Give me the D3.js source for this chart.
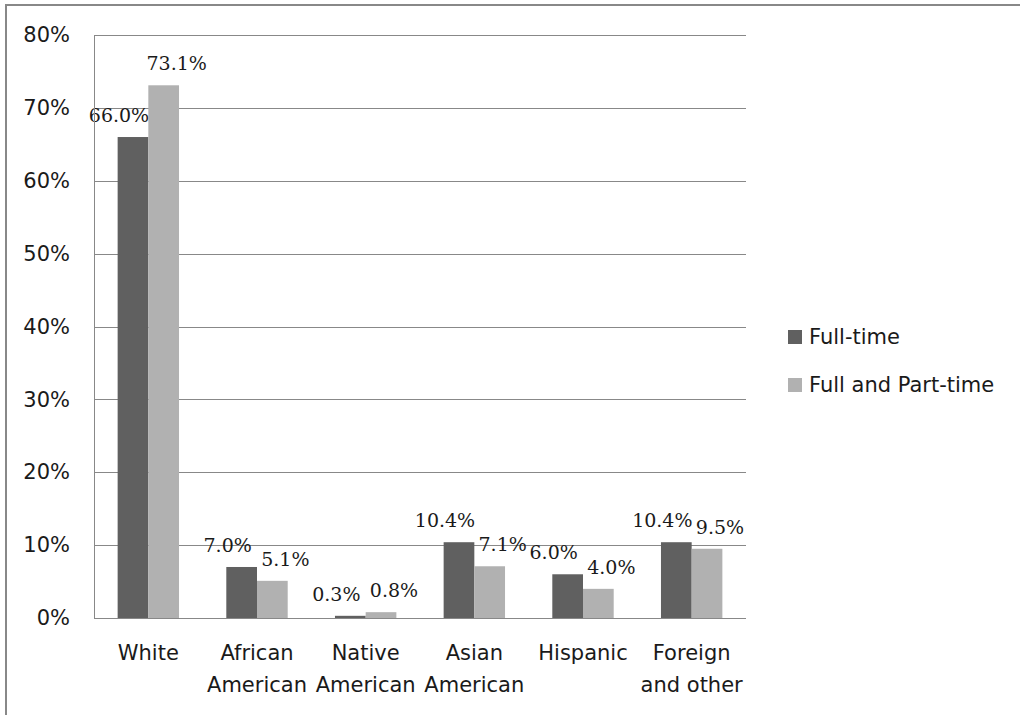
<!DOCTYPE html>
<html>
<head>
<meta charset="utf-8">
<script src="https://cdn.jsdelivr.net/npm/d3@7"></script>
<style>
  html, body { margin: 0; padding: 0; background: #fff; }
  svg { display: block; }
</style>
</head>
<body>
<svg id="chart" width="1020" height="715"></svg>
<script>
// Share of students by race/ethnicity, full-time vs. full and part-time enrolment
const categories = [["White"], ["African", "American"], ["Native", "American"], ["Asian", "American"], ["Hispanic"], ["Foreign", "and other"]];
const seriesNames = ["Full-time", "Full and Part-time"];
const fullTime = [0.660, 0.070, 0.003, 0.104, 0.060, 0.104];
const fullAndPartTime = [0.731, 0.051, 0.008, 0.071, 0.040, 0.095];
const yTicks = [0, 0.1, 0.2, 0.3, 0.4, 0.5, 0.6, 0.7, 0.8];

const seriesValues = [fullTime, fullAndPartTime];
const colors = ["#606060", "#b1b1b1"];
const sansFont = "'DejaVu Sans', sans-serif";
const textColor = "#1a1a1a";

const svg = d3.select("#chart");
const W = 1020, H = 715;
const plot = { left: 94, right: 746, top: 35, bottom: 618 };

// Outer chart frame (right and bottom edges run off the canvas)
svg.append("rect")
  .attr("x", 6).attr("y", 5)
  .attr("width", W + 10).attr("height", H + 10)
  .attr("fill", "#fff")
  .attr("stroke", "#888").attr("stroke-width", 2);

const catKeys = categories.map(c => c.join(" "));
const x0 = d3.scaleBand().domain(catKeys).range([plot.left, plot.right]).paddingInner(0).paddingOuter(0);
const x1 = d3.scaleBand().domain(seriesNames).range([0, x0.bandwidth()]).paddingInner(0).paddingOuter(0.77);
const y = d3.scaleLinear().domain([0, 0.8]).range([plot.bottom, plot.top]);

// Horizontal gridlines and y tick labels
const yAxis = d3.axisLeft(y).tickValues(yTicks).tickFormat(d3.format(".0%")).tickSize(0).tickPadding(24);
const gy = svg.append("g").attr("transform", `translate(${plot.left},0)`).call(yAxis);
gy.select(".domain").remove();
gy.selectAll("text")
  .attr("font-family", sansFont)
  .attr("font-size", 21)
  .attr("fill", textColor);

svg.append("g").selectAll("line")
  .data(yTicks.filter(t => t > 0))
  .join("line")
  .attr("x1", plot.left).attr("x2", plot.right)
  .attr("y1", d => Math.round(y(d)) + 0.5).attr("y2", d => Math.round(y(d)) + 0.5)
  .attr("stroke", "#888").attr("stroke-width", 1);

// Bars
const groups = svg.append("g").selectAll("g")
  .data(catKeys)
  .join("g")
  .attr("transform", d => `translate(${x0(d)},0)`);

groups.selectAll("rect")
  .data((d, i) => seriesNames.map((s, j) => ({ s, j, v: seriesValues[j][i] })))
  .join("rect")
  .attr("x", d => x1(d.s))
  .attr("width", x1.bandwidth())
  .attr("y", d => y(d.v))
  .attr("height", d => y(0) - y(d.v))
  .attr("fill", d => colors[d.j]);

// Value labels above each bar
groups.selectAll("text")
  .data((d, i) => seriesNames.map((s, j) => ({ s, j, v: seriesValues[j][i] })))
  .join("text")
  .attr("x", d => x1(d.s) + x1.bandwidth() / 2 + (d.j === 0 ? -14 : 13))
  .attr("y", d => y(d.v) - 15)
  .attr("text-anchor", "middle")
  .attr("font-family", "'DejaVu Serif', serif")
  .attr("font-size", 19)
  .attr("fill", textColor)
  .text(d => d3.format(".1%")(d.v));

// Plot frame: left axis line and baseline
svg.append("line")
  .attr("x1", plot.left + 0.5).attr("x2", plot.left + 0.5)
  .attr("y1", plot.top).attr("y2", plot.bottom)
  .attr("stroke", "#888").attr("stroke-width", 1);
svg.append("line")
  .attr("x1", plot.left).attr("x2", plot.right)
  .attr("y1", plot.bottom + 0.5).attr("y2", plot.bottom + 0.5)
  .attr("stroke", "#888").attr("stroke-width", 1);

// Category labels (two lines where needed)
const xAxisLabels = svg.append("g").selectAll("text")
  .data(categories)
  .join("text")
  .attr("x", (d, i) => x0(catKeys[i]) + x0.bandwidth() / 2)
  .attr("y", 660)
  .attr("text-anchor", "middle")
  .attr("font-family", sansFont)
  .attr("font-size", 21)
  .attr("fill", textColor);
xAxisLabels.selectAll("tspan")
  .data(d => d)
  .join("tspan")
  .attr("x", function () { return d3.select(this.parentNode).attr("x"); })
  .attr("dy", (d, i) => i === 0 ? 0 : 32)
  .text(d => d);

// Legend
const legend = svg.append("g").selectAll("g")
  .data(seriesNames)
  .join("g")
  .attr("transform", (d, i) => `translate(788,${337 + i * 48})`);
legend.append("rect")
  .attr("x", 0).attr("y", -7).attr("width", 14).attr("height", 14)
  .attr("fill", (d, i) => colors[i]);
legend.append("text")
  .attr("x", 21).attr("y", 0).attr("dy", "0.35em")
  .attr("font-family", sansFont)
  .attr("font-size", 21)
  .attr("fill", textColor)
  .text(d => d);
</script>
</body>
</html>
